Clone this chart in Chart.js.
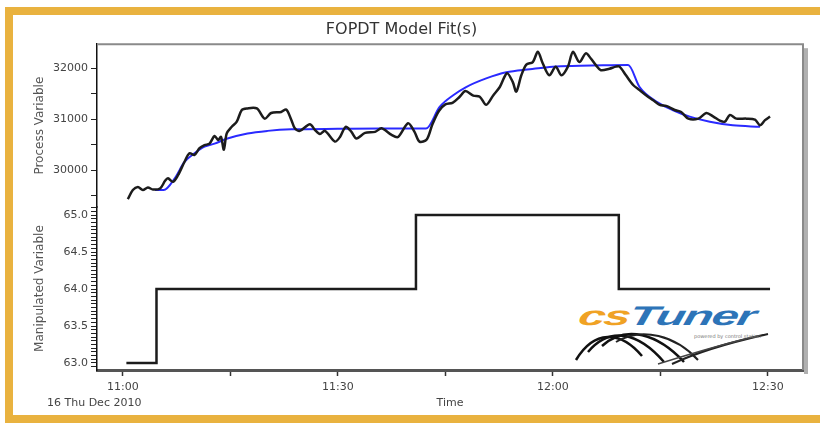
<!DOCTYPE html>
<html>
<head>
<meta charset="utf-8">
<script src="https://cdn.jsdelivr.net/npm/chart.js@4.4.1/dist/chart.umd.min.js"></script>
<style>
  html, body { margin: 0; padding: 0; background: #fff; }
  #wrap { position: relative; width: 820px; height: 423px; overflow: hidden; font-family: "DejaVu Sans", sans-serif; }
  #frame { position: absolute; left: 5px; top: 7px; width: 830px; height: 400px;
           border: 8px solid #e9b23f; border-right: none; }
  #cv { position: absolute; left: 0; top: 0; }
  #date { position: absolute; left: 47px; top: 396px; font-size: 11px; color: #444; }
  #logo { position: absolute; left: 572px; top: 296px; width: 220px; height: 70px; }
  #logo .txt { position: absolute; left: 10px; top: 5px; font-family: "Liberation Sans", Arial, sans-serif;
               font-weight: bold; font-style: italic; font-size: 27px; letter-spacing: -1px;
               transform: skewX(-12deg) scaleX(1.8); transform-origin: left top; }
  #logo .cs { color: #f0a224; }
  #logo .tu { color: #2d74b8; }
  #logo .pw { position: absolute; left: 122px; top: 37px; font-size: 5px; color: #777; }
</style>
</head>
<body>
<div id="wrap">
  <div id="frame"></div>
  <svg id="logo" viewBox="0 0 220 70">
    <path d="M4,64 C22,34 48,34 70,60" fill="none" stroke="#111" stroke-width="2.5"/>
    <path d="M16,56 C38,30 66,36 92,66" fill="none" stroke="#111" stroke-width="2.5"/>
    <path d="M30,50 C54,28 86,38 112,66" fill="none" stroke="#111" stroke-width="2.5"/>
    <path d="M44,46 C70,30 104,40 126,64" fill="none" stroke="#222" stroke-width="2"/>
    <path d="M100,68 C130,54 160,46 196,38" fill="none" stroke="#222" stroke-width="2"/>
    <path d="M86,68 C118,58 150,48 186,40" fill="none" stroke="#444" stroke-width="1.5"/>
  </svg>
  <div id="logo" style="pointer-events:none">
    <div class="txt"><span class="cs">cs</span><span class="tu">Tuner</span></div>
    <div class="pw">powered by control station</div>
  </div>
  <canvas id="cv" width="820" height="423"></canvas>
  <div id="date">16 Thu Dec 2010</div>
</div>
<script>
// minutes after 11:00
var pvTime = [0.7, 1.4, 2.1, 2.8, 3.5, 4.2, 5.2, 5.9, 6.3, 7.0, 7.7, 8.6, 9.3, 10.0, 10.7, 11.4, 12.1, 12.8,
    13.3, 13.7, 14.1, 14.5, 15.2, 15.9, 16.6, 17.3, 18.7, 19.8, 20.7, 22.1, 22.8, 23.5, 24.0, 24.7, 26.1,
    26.8, 27.5, 28.2, 29.6, 30.3, 31.1, 31.9, 32.6, 33.8, 35.2, 36.1, 37.5, 38.4, 39.8, 40.7, 41.4, 42.4,
    43.2, 44.1, 45.0, 46.0, 47.0, 47.8, 48.9, 49.8, 50.7, 51.7, 52.6, 53.6, 54.4, 54.9, 55.6, 56.3, 57.2,
    57.9, 58.6, 59.5, 60.4, 61.2, 62.1, 62.8, 63.7, 64.6, 65.3, 66.0, 66.7, 67.9, 68.8, 69.3, 70.2, 71.2,
    72.1, 73.0, 74.0, 74.9, 75.8, 77.0, 77.9, 78.9, 80.3, 81.4, 82.4, 83.3, 84.0, 84.7, 85.6, 87.0, 88.2,
    88.9, 89.6, 90.3];
var pvValues = [29430, 29610, 29670, 29610, 29660, 29620, 29640, 29790, 29840, 29770, 29900, 30160, 30330,
    30300, 30430, 30490, 30520, 30670, 30590, 30650, 30400, 30720, 30850, 30950, 31180, 31210, 31210, 31010,
    31120, 31140, 31190, 30990, 30820, 30770, 30900, 30790, 30710, 30770, 30560, 30650, 30850, 30750, 30620,
    30730, 30750, 30820, 30690, 30650, 30920, 30750, 30560, 30600, 30900, 31160, 31290, 31320, 31440, 31550,
    31460, 31440, 31280, 31470, 31630, 31900, 31730, 31540, 31860, 32070, 32120, 32320, 32090, 31860, 32030,
    31860, 32030, 32320, 32120, 32290, 32190, 32060, 31960, 31990, 32030, 32030, 31860, 31670, 31570, 31470,
    31370, 31280, 31260, 31180, 31140, 31010, 31010, 31120, 31050, 30970, 30950, 31080, 31010, 31010, 30990,
    30880, 30980, 31050];

var modelTime = [4.5, 5.7, 7.25, 8.6, 10.0, 11.4, 12.8, 14.6, 17.4, 20.2, 23.5, 30.0, 36.0, 42.3, 44.2, 46.1,
    47.9, 50.7, 53.5, 56.8, 60.0, 63.8, 67.0, 70.5, 72.1, 74.5, 76.7, 79.1, 81.9, 85.1, 88.9];
var modelValues = [29610, 29610, 29840, 30160, 30330, 30460, 30520, 30620, 30720, 30770, 30800, 30810, 30815,
    30815, 31240, 31470, 31630, 31800, 31920, 31980, 32030, 32045, 32055, 32060, 31630, 31340, 31180, 31050,
    30950, 30880, 30850];

var mvTime = [0.5, 4.7, 40.9, 69.2, 90.3];
var mvValues = [63.0, 64.0, 65.0, 64.0, 64.0];

var timeTicks = [0, 30, 60, 90];
var timeLabels = ['11:00', '11:30', '12:00', '12:30'];
var pvTicks = [29500, 30000, 30500, 31000, 31500, 32000];
var pvLabelled = [30000, 31000, 32000];

function pts(xs, ys) {
    var out = [];
    for (var i = 0; i < xs.length; i++) {
        out.push({x: xs[i], y: ys[i]});
    }
    return out;
}

var boxPlugin = {
    id: 'box',
    beforeDatasetsDraw: function(chart) {
        var a = chart.chartArea, ctx = chart.ctx;
        ctx.save();
        ctx.fillStyle = '#b0b0b0';
        ctx.fillRect(a.right + 1, a.top + 4, 4, a.bottom - a.top);
        ctx.strokeStyle = '#8a8a8a';
        ctx.lineWidth = 2;
        ctx.beginPath();
        ctx.moveTo(a.left, a.top);
        ctx.lineTo(a.right, a.top);
        ctx.lineTo(a.right, a.bottom);
        ctx.stroke();
        ctx.restore();
    }
};

var ctx = document.getElementById('cv');
var chart = new Chart(ctx, {
    type: 'line',
    data: {
        datasets: [{
            data: pts(pvTime, pvValues),
            yAxisID: 'yPV',
            borderColor: '#1c1c1c',
            borderWidth: 2.5,
            pointRadius: 0,
            tension: 0.3
        }, {
            data: pts(modelTime, modelValues),
            yAxisID: 'yPV',
            borderColor: '#2a2aff',
            borderWidth: 2,
            pointRadius: 0,
            cubicInterpolationMode: 'monotone'
        }, {
            data: pts(mvTime, mvValues),
            yAxisID: 'yMV',
            borderColor: '#1c1c1c',
            borderWidth: 2.5,
            pointRadius: 0,
            stepped: true
        }]
    },
    plugins: [boxPlugin],
    options: {
        responsive: false,
        animation: false,
        devicePixelRatio: 1,
        layout: { padding: { left: 0, right: 17, bottom: 0 } },
        plugins: {
            legend: { display: false },
            tooltip: { enabled: false },
            title: {
                display: true,
                text: 'FOPDT Model Fit(s)',
                color: '#333',
                font: { family: 'DejaVu Sans', size: 16, weight: 'normal' },
                padding: { top: 20, bottom: 5 }
            }
        },
        scales: {
            x: {
                type: 'linear',
                min: -3.6,
                max: 94.9,
                border: { color: '#555', width: 3 },
                grid: { drawOnChartArea: false, tickLength: 6, tickColor: '#333', tickWidth: 1.5 },
                ticks: {
                    stepSize: 15,
                    includeBounds: false,
                    autoSkip: false,
                    maxRotation: 0,
                    padding: 5,
                    color: '#444',
                    font: { family: 'DejaVu Sans', size: 11 },
                    callback: function(v) {
                        var i = timeTicks.indexOf(v);
                        return i >= 0 ? timeLabels[i] : '';
                    }
                },
                title: {
                    display: true,
                    text: 'Time',
                    color: '#444',
                    font: { family: 'DejaVu Sans', size: 11 },
                    padding: { top: 2, bottom: 13 }
                },
                afterFit: function(s) { s.height = 53; }
            },
            // last left axis defined ends up on top of the stack
            yMV: {
                type: 'linear',
                position: 'left',
                stack: 'v',
                stackWeight: 1,
                min: 62.905,
                max: 65.108,
                border: { color: '#111', width: 1.5 },
                grid: { drawOnChartArea: false, tickLength: 6, tickColor: '#222' },
                ticks: {
                    stepSize: 0.05,
                    includeBounds: false,
                    autoSkip: false,
                    padding: 3,
                    color: '#444',
                    font: { family: 'DejaVu Sans', size: 11 },
                    callback: function(v) {
                        return Math.abs(v * 2 - Math.round(v * 2)) < 1e-6 ? v.toFixed(1) : '';
                    }
                },
                title: {
                    display: true,
                    text: 'Manipulated Variable',
                    color: '#555',
                    font: { family: 'DejaVu Sans', size: 12 },
                    padding: { top: 33, bottom: 0 }
                },
                afterFit: function(s) { s.width = 97; }
            },
            yPV: {
                type: 'linear',
                position: 'left',
                stack: 'v',
                stackWeight: 1,
                min: 29275,
                max: 32470,
                border: { color: '#111', width: 1.5 },
                grid: { drawOnChartArea: false, tickLength: 6, tickColor: '#222' },
                afterBuildTicks: function(s) {
                    s.ticks = pvTicks.map(function(v) { return {value: v}; });
                },
                ticks: {
                    autoSkip: false,
                    padding: 3,
                    color: '#444',
                    font: { family: 'DejaVu Sans', size: 11 },
                    callback: function(v) { return pvLabelled.indexOf(v) >= 0 ? String(v) : ''; }
                },
                title: {
                    display: true,
                    text: 'Process Variable',
                    color: '#555',
                    font: { family: 'DejaVu Sans', size: 12 },
                    padding: { top: 33, bottom: 0 }
                },
                afterFit: function(s) { s.width = 97; }
            }
        }
    }
});
</script>
</body>
</html>
